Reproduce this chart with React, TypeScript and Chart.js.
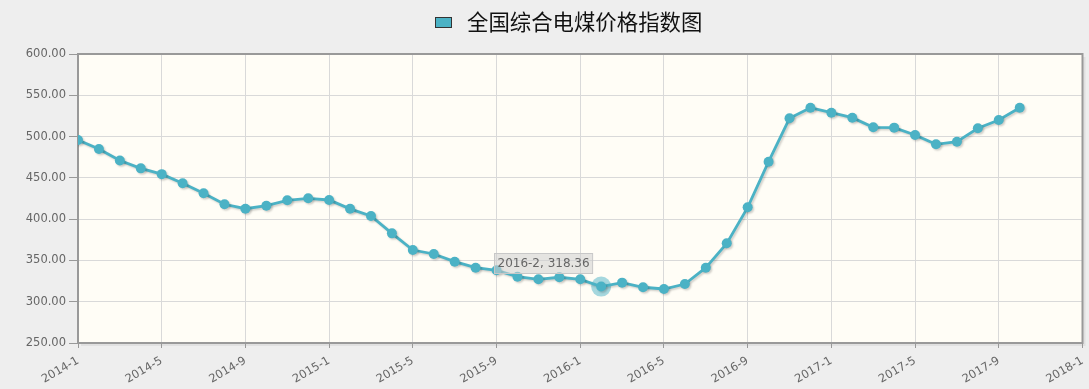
import React, { useEffect, useRef } from "react";
import { Chart, registerables } from "chart.js";

Chart.register(...registerables);

const TITLE = "全国综合电煤价格指数图";

const months = [
  "2014-1", "2014-2", "2014-3", "2014-4", "2014-5", "2014-6", "2014-7", "2014-8", "2014-9", "2014-10", "2014-11", "2014-12",
  "2015-1", "2015-2", "2015-3", "2015-4", "2015-5", "2015-6", "2015-7", "2015-8", "2015-9", "2015-10", "2015-11", "2015-12",
  "2016-1", "2016-2", "2016-3", "2016-4", "2016-5", "2016-6", "2016-7", "2016-8", "2016-9", "2016-10", "2016-11", "2016-12",
  "2017-1", "2017-2", "2017-3", "2017-4", "2017-5", "2017-6", "2017-7", "2017-8", "2017-9", "2017-10",
];

const values = [
  495.9, 485.0, 471.0, 461.5, 454.5, 443.5, 431.3, 418.0, 412.6, 416.3, 422.8, 425.2,
  423.2, 412.5, 403.8, 382.8, 362.6, 357.8, 348.5, 341.2, 338.0, 330.3, 327.1, 329.6,
  327.1, 318.36, 323.1, 317.5, 315.4, 321.4, 341.2, 370.7, 414.3, 469.6, 522.1, 535.0,
  528.9, 522.9, 511.2, 510.8, 501.9, 490.6, 493.8, 510.0, 520.1, 535.0,
];

const xTickLabels = [
  "2014-1", "2014-5", "2014-9", "2015-1", "2015-5", "2015-9", "2016-1",
  "2016-5", "2016-9", "2017-1", "2017-5", "2017-9", "2018-1",
];

const yMin = 250;
const yMax = 600;
const yStep = 50;
const xMonthsSpan = 48;
const xTickStep = 4;

const highlightMonth = "2016-2";

const LINE_COLOR = "#4bb2c5";
const FONT = "'DejaVu Sans', sans-serif";

export default function App() {
  const ref = useRef<HTMLCanvasElement | null>(null);

  useEffect(() => {
    const canvas = ref.current;
    if (!canvas) return;

    const hiIdx = months.indexOf(highlightMonth);

    const bgPlugin = {
      id: "bgPlugin",
      beforeDraw(chart: any) {
        const { ctx, chartArea: a } = chart;
        ctx.save();
        ctx.fillStyle = "#eeeeee";
        ctx.fillRect(0, 0, chart.width, chart.height);
        ctx.fillStyle = "rgba(0,0,0,0.06)";
        ctx.fillRect(a.left + 3, a.top + 3, a.right - a.left, a.bottom - a.top);
        ctx.fillStyle = "#fffdf6";
        ctx.fillRect(a.left, a.top, a.right - a.left, a.bottom - a.top);
        ctx.restore();
      },
      beforeDatasetsDraw(chart: any) {
        const { ctx, chartArea: a } = chart;
        ctx.save();
        ctx.strokeStyle = "#999999";
        ctx.lineWidth = 2;
        ctx.strokeRect(a.left, a.top, a.right - a.left, a.bottom - a.top);
        if (hiIdx >= 0) {
          const x = chart.scales.x.getPixelForValue(hiIdx);
          const y = chart.scales.y.getPixelForValue(values[hiIdx]);
          ctx.fillStyle = "rgba(75,178,197,0.5)";
          ctx.beginPath();
          ctx.arc(x, y, 10, 0, Math.PI * 2);
          ctx.fill();
        }
        ctx.restore();
      },
    };

    const shadowPlugin = {
      id: "shadowPlugin",
      beforeDatasetDraw(chart: any) {
        const ctx = chart.ctx;
        ctx.save();
        ctx.shadowColor = "rgba(0,0,0,0.18)";
        ctx.shadowOffsetX = 1.5;
        ctx.shadowOffsetY = 1.5;
        ctx.shadowBlur = 2;
      },
      afterDatasetDraw(chart: any) {
        chart.ctx.restore();
      },
    };

    const overlayPlugin = {
      id: "overlayPlugin",
      afterDraw(chart: any) {
        const ctx = chart.ctx;
        ctx.save();
        ctx.fillStyle = LINE_COLOR;
        ctx.fillRect(435.5, 17.5, 16, 10);
        ctx.strokeStyle = "#333333";
        ctx.lineWidth = 1;
        ctx.strokeRect(435.5, 17.5, 16, 10);
        ctx.fillStyle = "#111111";
        ctx.font = "21.4px 'Noto Sans CJK SC', sans-serif";
        ctx.textBaseline = "middle";
        ctx.textAlign = "left";
        ctx.fillText(TITLE, 467, 21.5);

        if (hiIdx >= 0) {
          const x = chart.scales.x.getPixelForValue(hiIdx);
          const y = chart.scales.y.getPixelForValue(values[hiIdx]);
          const text = `${months[hiIdx]}, ${values[hiIdx].toFixed(2)}`;
          ctx.font = `12px ${FONT}`;
          const w = ctx.measureText(text).width + 6;
          const h = 20;
          const right = x - 9;
          const bottom = y - 13.5;
          const left = Math.round(right - w) + 0.5;
          const top = Math.round(bottom - h) + 0.5;
          ctx.fillStyle = "rgba(208,208,208,0.55)";
          ctx.fillRect(left, top, w, h);
          ctx.strokeStyle = "#c8c8c8";
          ctx.strokeRect(left, top, w, h);
          ctx.fillStyle = "#666666";
          ctx.textBaseline = "middle";
          ctx.fillText(text, left + 3, top + h / 2 + 0.5);
        }
        ctx.restore();
      },
    };

    const chart = new Chart(canvas, {
      type: "line",
      data: {
        datasets: [
          {
            label: TITLE,
            data: values.map((v, i) => ({ x: i, y: v })),
            borderColor: LINE_COLOR,
            backgroundColor: LINE_COLOR,
            borderWidth: 2.8,
            pointRadius: 5,
            pointBorderWidth: 0,
            pointBackgroundColor: LINE_COLOR,
            tension: 0,
            fill: false,
          },
        ],
      },
      options: {
        animation: false,
        responsive: false,
        devicePixelRatio: 1,
        layout: { padding: { left: 0, right: 6.5, top: 54, bottom: 0 } },
        plugins: {
          legend: { display: false },
          tooltip: { enabled: false },
          title: { display: false },
        },
        scales: {
          x: {
            type: "linear",
            min: 0,
            max: xMonthsSpan,
            border: { display: false },
            grid: { color: "#d9d9d9", lineWidth: 1, tickColor: "#999999", tickLength: 5 },
            ticks: {
              stepSize: xTickStep,
              autoSkip: false,
              minRotation: 30,
              maxRotation: 30,
              color: "#666666",
              padding: 6,
              font: { family: FONT, size: 11.5 },
              callback: (v: any) => {
                const k = Math.round(Number(v) / xTickStep);
                return xTickLabels[k] ?? "";
              },
            },
            afterFit(scale: any) {
              scale.height = 46;
              scale.paddingLeft = 0;
              scale.paddingRight = 0;
            },
          },
          y: {
            min: yMin,
            max: yMax,
            border: { display: false },
            grid: { color: "#d9d9d9", lineWidth: 1, tickColor: "#999999", tickLength: 9 },
            ticks: {
              stepSize: yStep,
              color: "#666666",
              padding: 3,
              font: { family: FONT, size: 11.5 },
              callback: (v: any) => Number(v).toFixed(2),
            },
            afterFit(scale: any) {
              scale.width = 78;
              scale.paddingTop = 0;
              scale.paddingBottom = 0;
            },
          },
        },
      },
      plugins: [bgPlugin, shadowPlugin, overlayPlugin],
    });

    return () => chart.destroy();
  }, []);

  return (
    <div
      style={{
        position: "fixed",
        left: 0,
        top: 0,
        width: 1089,
        height: 389,
        background: "#eeeeee",
      }}
    >
      <canvas ref={ref} width={1089} height={389} style={{ display: "block" }} />
    </div>
  );
}
